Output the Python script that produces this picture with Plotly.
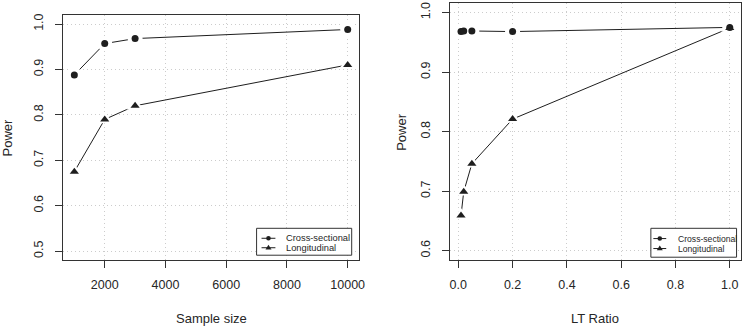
import plotly.graph_objects as go

# ---- data ----
sample_size = [1000, 2000, 3000, 10000]
left_cross = [0.888, 0.957, 0.968, 0.988]
left_long = [0.675, 0.790, 0.820, 0.910]

lt_ratio = [0.01, 0.02, 0.05, 0.2, 1.0]
right_cross = [0.968, 0.969, 0.969, 0.968, 0.975]
right_long = [0.659, 0.699, 0.746, 0.821, 0.974]

left_xticks = [2000, 4000, 6000, 8000, 10000]
left_yticks = [0.5, 0.6, 0.7, 0.8, 0.9, 1.0]
right_xticks = [0.0, 0.2, 0.4, 0.6, 0.8, 1.0]
right_yticks = [0.6, 0.7, 0.8, 0.9, 1.0]
series_names = ["Cross-sectional", "Longitudinal"]

INK = "#1e1e1e"
BOX = "#333333"
TXT = "#262626"
FONT = "Liberation Sans, Arial, sans-serif"

W, H = 749, 326


def px_x(p):
    return p / W


def px_y(p):
    return (H - p) / H


fig = go.Figure()

panels = [
    ("x", "y", sample_size, left_cross, left_long),
    ("x2", "y2", lt_ratio, right_cross, right_long),
]
symbols = ["circle", "triangle-up"]
sizes = [7, 8]

for xa, ya, xs, c, l in panels:
    ys_list = [c, l]
    for ys, nm in zip(ys_list, series_names):
        fig.add_trace(go.Scatter(x=xs, y=ys, mode="lines", xaxis=xa, yaxis=ya,
                                 line=dict(color=INK, width=1), showlegend=False,
                                 hoverinfo="skip", name=nm))
    # white halos (R type="b" gaps around points)
    for ys, sym in zip(ys_list, symbols):
        fig.add_trace(go.Scatter(x=xs, y=ys, mode="markers", xaxis=xa, yaxis=ya,
                                 marker=dict(symbol=sym, size=15, color="white"),
                                 showlegend=False, hoverinfo="skip"))
    for ys, sym, sz, nm in zip(ys_list, symbols, sizes, series_names):
        fig.add_trace(go.Scatter(x=xs, y=ys, mode="markers", xaxis=xa, yaxis=ya,
                                 marker=dict(symbol=sym, size=sz, color=INK),
                                 showlegend=False, name=nm))

axis_common = dict(
    showline=True, mirror=True, linecolor=BOX, linewidth=1.2,
    ticks="outside", ticklen=7, tickcolor=BOX, tickwidth=1.2,
    showgrid=True, gridcolor="#cccccc", griddash="1px,3px", gridwidth=1,
    zeroline=False, tickfont=dict(size=12.5, color=TXT, family=FONT),
)

# ---- hand-drawn R-style legends ----
shapes = []
annotations = []
legend_specs = [
    dict(box=(258, 354, 228, 255), seg=(263, 277), tx=286, rows=(238, 247.5), fs=9.3),
    dict(box=(656, 742.5, 228, 257), seg=(658.5, 671.5), tx=681.5, rows=(238.3, 248.3), fs=8.6),
]
for spec in legend_specs:
    bx0, bx1, by0, by1 = spec["box"]
    shapes.append(dict(type="rect", xref="paper", yref="paper",
                       x0=px_x(bx0), x1=px_x(bx1), y0=px_y(by1), y1=px_y(by0),
                       line=dict(color=BOX, width=1), fillcolor="white", layer="above"))
    sx0, sx1 = spec["seg"]
    cx = (sx0 + sx1) / 2
    for row_y, sym, nm in zip(spec["rows"], symbols, series_names):
        shapes.append(dict(type="line", xref="paper", yref="paper",
                           x0=px_x(sx0), x1=px_x(sx1), y0=px_y(row_y), y1=px_y(row_y),
                           line=dict(color=INK, width=1), layer="above"))
        if sym == "circle":
            shapes.append(dict(type="circle", xref="paper", yref="paper",
                               xsizemode="pixel", ysizemode="pixel",
                               xanchor=px_x(cx), yanchor=px_y(row_y),
                               x0=-2.3, x1=2.3, y0=-2.3, y1=2.3,
                               fillcolor=INK, line=dict(color=INK, width=0), layer="above"))
        else:
            shapes.append(dict(type="path", xref="paper", yref="paper",
                               xsizemode="pixel", ysizemode="pixel",
                               xanchor=px_x(cx), yanchor=px_y(row_y),
                               path="M-3,-1.8 L3,-1.8 L0,3 Z",
                               fillcolor=INK, line=dict(color=INK, width=0), layer="above"))
        annotations.append(dict(text=nm, x=px_x(spec["tx"]), y=px_y(row_y),
                                xref="paper", yref="paper", xanchor="left", yanchor="middle",
                                showarrow=False,
                                font=dict(size=spec["fs"], color=TXT, family=FONT)))

annotations += [
    dict(text="Sample size", x=px_x(212), y=px_y(318), xref="paper", yref="paper",
         xanchor="center", yanchor="middle",
         showarrow=False, font=dict(size=13, color=TXT, family=FONT)),
    dict(text="LT Ratio", x=px_x(600), y=px_y(318), xref="paper", yref="paper",
         xanchor="center", yanchor="middle",
         showarrow=False, font=dict(size=13, color=TXT, family=FONT)),
    dict(text="Power", x=px_x(7), y=px_y(137), xref="paper", yref="paper",
         xanchor="center", yanchor="middle",
         showarrow=False, textangle=-90, font=dict(size=13, color=TXT, family=FONT)),
    dict(text="Power", x=px_x(404), y=px_y(131), xref="paper", yref="paper",
         xanchor="center", yanchor="middle",
         showarrow=False, textangle=-90, font=dict(size=13, color=TXT, family=FONT)),
]

fig.update_layout(
    width=W, height=H,
    margin=dict(l=0, r=0, t=0, b=0),
    paper_bgcolor="white", plot_bgcolor="white",
    font=dict(family=FONT, color=TXT),
    showlegend=False,
    xaxis=dict(domain=[px_x(63), px_x(361)], range=[640, 10360], tickvals=left_xticks,
               ticktext=[str(v) for v in left_xticks], anchor="y", ticklabelstandoff=6,
               **axis_common),
    yaxis=dict(domain=[px_y(260), px_y(14)], range=[0.48, 1.02], tickvals=left_yticks,
               ticktext=[f"{v:.1f}" for v in left_yticks], tickangle=-90, anchor="x",
               ticklabelstandoff=7, **axis_common),
    xaxis2=dict(domain=[px_x(453.5), px_x(746.5)], range=[-0.0296, 1.0396],
                tickvals=right_xticks, ticktext=[f"{v:.1f}" for v in right_xticks],
                anchor="y2", ticklabelstandoff=6, **axis_common),
    yaxis2=dict(domain=[px_y(260), px_y(2)], range=[0.584, 1.016], tickvals=right_yticks,
                ticktext=[f"{v:.1f}" for v in right_yticks], tickangle=-90, anchor="x2",
                ticklabelstandoff=7, **axis_common),
    shapes=shapes,
    annotations=annotations,
)

fig.write_html("out.html", config={"displayModeBar": False},
               post_script="document.body.style.margin='0px';")
